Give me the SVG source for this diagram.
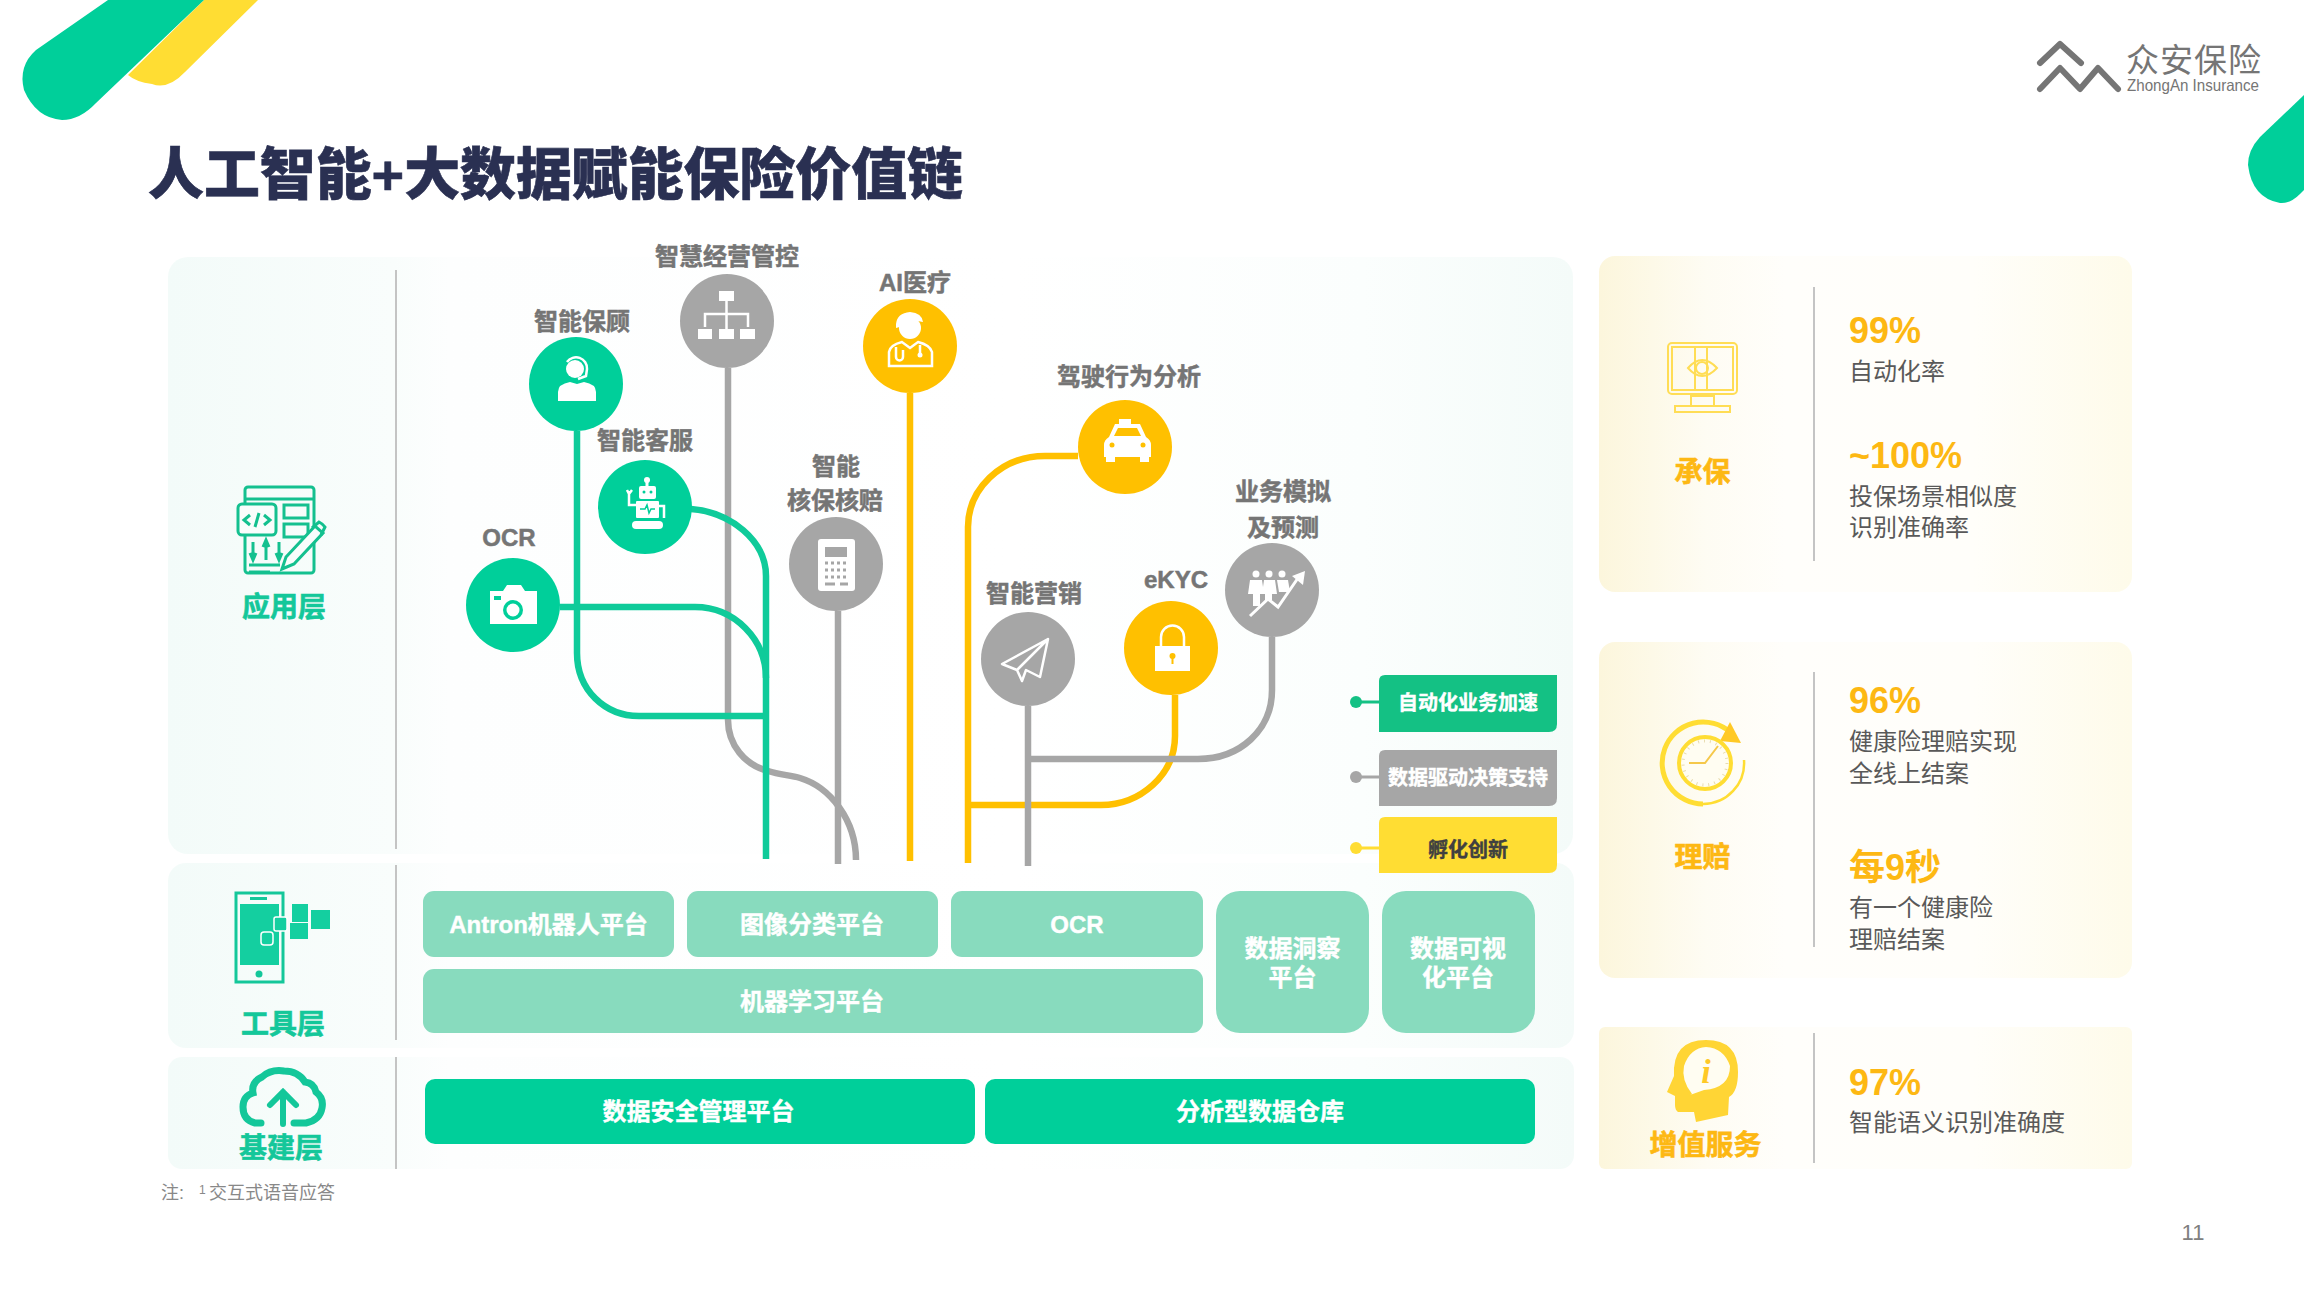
<svg xmlns="http://www.w3.org/2000/svg" width="2304" height="1296" viewBox="0 0 2304 1296">
<style>
text{font-family:"Liberation Sans","Noto Sans CJK SC",sans-serif}
.lb{font-size:24px;font-weight:700;fill:#757575;stroke:#757575;stroke-width:.5;text-anchor:middle}
.wt{font-size:24px;font-weight:700;fill:#fff;stroke:#fff;stroke-width:.4;text-anchor:middle}
.lg{font-size:20px;font-weight:700;fill:#fff;stroke:#fff;stroke-width:.4;text-anchor:middle}
.gh{font-size:28px;font-weight:700;fill:#14c79a;stroke:#14c79a;stroke-width:.6;text-anchor:middle}
.yh{font-size:28px;font-weight:700;fill:#fdb813;stroke:#fdb813;stroke-width:.6;text-anchor:middle}
.num{font-size:36px;font-weight:700;fill:#fdb813}
.bd{font-size:24px;fill:#595959}
.g{fill:#00cf9a}.k{fill:#a6a6a6}.o{fill:#ffc000}
.tool{fill:#88dbbe}.base{fill:#00cf9a}
.div{stroke:#c4c4c4;stroke-width:2;fill:none}
.cn{fill:none;stroke-width:6.500}
.sg{stroke:#0fcb9a}.sk{stroke:#a6a6a6}.so{stroke:#ffc000}
.w{fill:#fff}.wl{fill:none;stroke:#fff;stroke-width:2.500}
.gi{fill:none;stroke:#14c08f;stroke-width:3}
.yi{fill:none;stroke:#ffdd55;stroke-width:2}
</style>
<defs>
<linearGradient id="pg"><stop offset="0" stop-color="#f3fbf9"/><stop offset=".16" stop-color="#f9fdfc"/><stop offset=".2" stop-color="#fdfefe"/><stop offset=".6" stop-color="#fff"/><stop offset=".85" stop-color="#fbfefd"/><stop offset="1" stop-color="#f4fbf9"/></linearGradient>
<linearGradient id="py"><stop offset="0" stop-color="#fcf6dc"/><stop offset=".2" stop-color="#fefcf3"/><stop offset=".35" stop-color="#fffefb"/><stop offset=".7" stop-color="#fffefa"/><stop offset="1" stop-color="#fefbea"/></linearGradient>
</defs>
<rect width="2304" height="1296" fill="#fff"/>
<g id="decor">
<path d="M204,0H258L185,72Q168,90 152,84Q136,82 128,75L204,0Z" fill="#ffdd33"/>
<path d="M108,0H204L96,103Q80,120 62,120Q36,118 24,90Q18,66 36,50Z" fill="#00cf9a"/>
<path d="M2304,95V190L2300,194Q2290,204 2280,203Q2252,198 2248,165Q2248,150 2260,137Z" fill="#00cf9a"/>
</g>
<g id="logo">
<path d="M2040,63L2060,44L2081,63M2040,89L2060,68L2080,89L2098,68L2118,89" fill="none" stroke="#757575" stroke-width="6" stroke-linecap="round" stroke-linejoin="round"/>
<text x="2126" y="72" font-size="33" fill="#757575" letter-spacing="1">众安保险</text>
<text x="2127" y="91" font-size="16.500" fill="#757575" textLength="132" lengthAdjust="spacingAndGlyphs">ZhongAn Insurance</text>
</g>
<text id="title" x="148" y="194" font-size="56" font-weight="900" fill="#2a3052" stroke="#2a3052" stroke-width=".6" textLength="815" lengthAdjust="spacingAndGlyphs">人工智能+大数据赋能保险价值链</text>
<g id="panels">
<rect x="168" y="257" width="1405" height="597" rx="20" fill="url(#pg)"/>
<rect x="168" y="863" width="1406" height="185" rx="18" fill="url(#pg)"/>
<rect x="168" y="1057" width="1406" height="112" rx="14" fill="url(#pg)"/>
<rect x="1599" y="256" width="533" height="336" rx="16" fill="url(#py)"/>
<rect x="1599" y="642" width="533" height="336" rx="16" fill="url(#py)"/>
<rect x="1599" y="1027" width="533" height="142" rx="6" fill="url(#py)"/>
<path class="div" d="M396,270V849M396,865V1040M396,1057V1169M1814,287V561M1814,672V947M1814,1033V1163"/>
</g>
<g id="connectors">
<path class="cn so" d="M910,393V861"/>
<path class="cn so" d="M1078,456H1045C1000,456 968,490 968,527V863"/>
<path class="cn so" d="M1175,695V736C1175,775 1140,805 1101,805H968"/>
<path class="cn sk" d="M728,368V720C728,745 745,765 768,771C780,775 790,775 800,778C830,787 856,820 856,860"/>
<path class="cn sk" d="M838,611V864"/>
<path class="cn sk" d="M1272,637V690C1272,730 1240,759 1198,759H1028"/>
<path class="cn sk" d="M1028,706V866"/>
<path class="cn sg" d="M577,431V653C577,690 605,716 639,716H766"/>
<path class="cn sg" d="M691,509C730,512 766,540 766,576V859"/>
<path class="cn sg" d="M560,607H695C735,607 766,640 766,678"/>
</g>
<g id="node-ocr"><circle class="g" cx="513" cy="605" r="47"/><text class="lb" x="509" y="546">OCR</text>
<path class="w" d="M490,591H503L507,585H521L525,591H537V624H490Z"/><circle cx="513" cy="610" r="10" fill="#00cf9a"/><circle cx="513" cy="610" r="6.500" fill="#fff"/><rect x="494" y="596" width="7" height="4" fill="#00cf9a"/></g>
<g id="node-advisor"><circle class="g" cx="576" cy="384" r="47"/><text class="lb" x="582" y="330">智能保顾</text>
<circle class="w" cx="575" cy="369" r="9"/><path class="wl" d="M567,362A11,11 0 0 1 587,369L586,376L578,379"/><path class="w" d="M558,401V392Q558,384 570,382L577,384L584,382Q596,384 596,392V401Z"/></g>
<g id="node-robot"><circle class="g" cx="645" cy="507" r="47"/><text class="lb" x="645" y="449">智能客服</text>
<circle class="w" cx="647" cy="480" r="3"/><rect x="645.500" y="482" width="3" height="6" class="w"/><rect class="w" x="639" y="486" width="17" height="13" rx="2"/><circle cx="644" cy="492" r="1.500" fill="#00cf9a"/><circle cx="651" cy="492" r="1.500" fill="#00cf9a"/>
<rect class="w" x="636" y="501" width="23" height="17" rx="1"/><path d="M640,509H645L647,505L649,513L651,509H655" fill="none" stroke="#00cf9a" stroke-width="1.500"/>
<rect class="w" x="632" y="521" width="31" height="8" rx="4"/><path class="wl" d="M629,491V505H636M627,490L629,494L632,490M659,506H664V518" stroke-width="2"/></g>
<g id="node-org"><circle class="k" cx="727" cy="321" r="47"/><text class="lb" x="727" y="265">智慧经营管控</text>
<rect class="w" x="719" y="291" width="15" height="10"/><rect class="w" x="698" y="329" width="14" height="10"/><rect class="w" x="719" y="329" width="15" height="10"/><rect class="w" x="740" y="329" width="15" height="10"/><path class="wl" d="M726.500,301V329M705,327V314H748V327"/></g>
<g id="node-calc"><circle class="k" cx="836" cy="564" r="47"/><text class="lb" x="836" y="475">智能</text><text class="lb" x="835" y="509">核保核赔</text>
<rect class="w" x="818" y="539" width="37" height="52" rx="3"/><rect x="825" y="547" width="22" height="10" fill="#a6a6a6"/><path d="M825,563H848M825,570H848M825,577H848" stroke="#a6a6a6" stroke-width="3" stroke-dasharray="3 3"/><path d="M825,584H835M840,584H848" stroke="#a6a6a6" stroke-width="3"/></g>
<g id="node-medical"><circle class="o" cx="910" cy="346" r="47"/><text class="lb" x="915" y="291">AI医疗</text>
<circle class="w" cx="910" cy="328" r="11"/><path class="w" d="M896,324Q897,313 910,312Q922,313 923,322L912,320Q905,326 896,328Z"/><path class="wl" d="M889,366V352Q890,345 902,342L910,348L918,342Q930,345 932,352V366Z"/><path class="wl" d="M896,347V357A3,3 0 0 0 903,357V350M920,345V353" stroke-width="2"/><circle class="w" cx="920" cy="355" r="2.500"/></g>
<g id="node-taxi"><circle class="o" cx="1125" cy="447" r="47"/><text class="lb" x="1129" y="385">驾驶行为分析</text>
<path class="w" d="M1119,419H1131V424H1140L1146,437Q1151,440 1151,445V457H1104V445Q1104,440 1109,437L1115,424H1119Z"/><rect class="w" x="1106" y="455" width="9" height="7"/><rect class="w" x="1140" y="455" width="9" height="7"/><path d="M1114,436L1118,428H1137L1141,436Z" fill="#ffc000"/><circle cx="1112" cy="445" r="2.500" fill="#ffc000"/><circle cx="1143" cy="445" r="2.500" fill="#ffc000"/></g>
<g id="node-marketing"><circle class="k" cx="1028" cy="659" r="47"/><text class="lb" x="1034" y="602">智能营销</text>
<path class="wl" d="M1048,639L1002,664L1017,670L1048,639L1040,677L1026,670L1022,681L1017,670" stroke-linejoin="round"/></g>
<g id="node-ekyc"><circle class="o" cx="1171" cy="648" r="47"/><text class="lb" x="1176" y="588">eKYC</text>
<path class="wl" d="M1161,647V637A11,11 0 0 1 1184,637V647" stroke-width="4"/><rect class="w" x="1155" y="646" width="35" height="25"/><circle cx="1172.500" cy="656" r="3" fill="#ffc000"/><rect x="1171.500" y="656" width="2" height="8" fill="#ffc000"/></g>
<g id="node-sim"><circle class="k" cx="1272" cy="590" r="47"/><text class="lb" x="1283" y="500">业务模拟</text><text class="lb" x="1283" y="536">及预测</text>
<g class="w"><circle cx="1256" cy="574" r="3.500"/><circle cx="1269" cy="574" r="3.500"/><circle cx="1282" cy="574" r="3.500"/><path d="M1250,580H1262L1264,594H1260V606H1253V594H1248Z"/><path d="M1264,580H1275L1277,594H1272V600H1265V594H1262Z"/><path d="M1277,580H1288L1290,592H1279Z"/></g>
<path d="M1250,616L1268,599L1278,607L1298,578" fill="none" stroke="#fff" stroke-width="3"/><path class="w" d="M1292,576L1305,571L1303,585Z"/></g>
<g id="legend">
<path d="M1356,702H1380" stroke="#14c184" stroke-width="3"/><circle cx="1356" cy="702" r="6" fill="#14c184"/>
<path d="M1379,681Q1379,675 1385,675H1557V724Q1557,732 1549,732H1379Z" fill="#14c184"/><text class="lg" x="1468" y="710">自动化业务加速</text>
<path d="M1356,777H1380" stroke="#a6a6a6" stroke-width="3"/><circle cx="1356" cy="777" r="6" fill="#a6a6a6"/>
<path d="M1379,756Q1379,750 1385,750H1557V798Q1557,806 1549,806H1379Z" fill="#a6a6a6"/><text class="lg" x="1468" y="785">数据驱动决策支持</text>
<path d="M1356,848H1380" stroke="#ffdd33" stroke-width="3"/><circle cx="1356" cy="848" r="6" fill="#ffdd33"/>
<path d="M1379,823Q1379,817 1385,817H1557V865Q1557,873 1549,873H1379Z" fill="#ffdd33"/><text class="lg" x="1468" y="857" style="fill:#404040;stroke:#404040">孵化创新</text>
</g>
<g id="layer-app">
<rect class="gi" x="245" y="487" width="69" height="86" rx="3"/><path class="gi" d="M245,499H314"/><rect class="gi" x="238" y="504" width="38" height="31" rx="4" style="fill:#f9fdfc"/>
<path class="gi" d="M250,515L244,520L250,525M255,527L259,513M264,515L270,520L264,525" stroke-width="2"/>
<rect class="gi" x="284" y="505" width="24" height="13"/><rect class="gi" x="284" y="524" width="24" height="13"/>
<path class="gi" d="M253,542V560M266,540V560M279,542V560M250,553L253,560L256,553M263,547L266,540L269,547M276,553L279,560L282,553M249,565H280M249,572H270"/>
<path d="M282,569L286,557L315,526L323,533L294,564Z" fill="#f9fdfc" stroke="#14c08f" stroke-width="3"/><path class="gi" d="M312,528L319,522Q323,524 325,527L321,535"/>
<text class="gh" x="284" y="617">应用层</text></g>
<g id="layer-tool">
<rect x="236" y="893" width="47" height="89" fill="none" stroke="#14c79a" stroke-width="3"/><rect x="240" y="904" width="39" height="61" fill="#14cfa0"/><rect x="250" y="897" width="17" height="3" fill="#14c79a"/><circle cx="259" cy="974" r="3.500" fill="#14c79a"/>
<rect x="292" y="904" width="16" height="18" fill="#14cfa0"/><rect x="311" y="910" width="19" height="19" fill="#14cfa0"/><rect x="290" y="923" width="18" height="16" fill="#14cfa0"/>
<rect x="274" y="917" width="13" height="14" rx="2" fill="#14cfa0" stroke="#fff" stroke-width="1.500"/><rect x="261" y="932" width="12" height="13" rx="3" fill="#14cfa0" stroke="#fff" stroke-width="1.500"/>
<text class="gh" x="283" y="1034">工具层</text></g>
<g id="layer-base">
<path d="M261,1123H255Q243,1120 243,1107Q243,1096 253,1093Q251,1082 262,1077Q271,1069 284,1071Q298,1071 305,1082Q314,1083 316,1092Q324,1098 322,1108Q320,1120 306,1123H294" fill="none" stroke="#14c79a" stroke-width="7" stroke-linecap="round"/>
<path d="M283,1124V1092M270,1105L283,1092L296,1105" fill="none" stroke="#14c79a" stroke-width="6" stroke-linecap="round"/>
<text class="gh" x="281" y="1158">基建层</text></g>
<g id="tool-antron"><rect class="tool" x="423" y="891" width="251" height="66" rx="11"/><text class="wt" x="548.500" y="933">Antron机器人平台</text></g>
<g id="tool-image"><rect class="tool" x="687" y="891" width="251" height="66" rx="11"/><text class="wt" x="812" y="933">图像分类平台</text></g>
<g id="tool-ocr"><rect class="tool" x="951" y="891" width="252" height="66" rx="11"/><text class="wt" x="1077" y="933">OCR</text></g>
<g id="tool-ml"><rect class="tool" x="423" y="969" width="780" height="64" rx="11"/><text class="wt" x="812" y="1010">机器学习平台</text></g>
<g id="tool-insight"><rect class="tool" x="1216" y="891" width="153" height="142" rx="24"/><text class="wt" x="1292.500" y="957">数据洞察</text><text class="wt" x="1292.500" y="986">平台</text></g>
<g id="tool-vis"><rect class="tool" x="1382" y="891" width="153" height="142" rx="24"/><text class="wt" x="1458" y="957">数据可视</text><text class="wt" x="1458" y="986">化平台</text></g>
<g id="base-sec"><rect class="base" x="425" y="1079" width="550" height="65" rx="10"/><text class="wt" x="698.500" y="1120">数据安全管理平台</text></g>
<g id="base-dw"><rect class="base" x="985" y="1079" width="550" height="65" rx="10"/><text class="wt" x="1260" y="1120">分析型数据仓库</text></g>
<g id="card-underwriting">
<rect class="yi" x="1668" y="343" width="69" height="51" rx="4"/><rect class="yi" x="1672" y="347" width="61" height="43"/><path class="yi" d="M1695,347V390M1707,347V390M1691,405V396H1714V405M1675,412V406H1730V412Z"/>
<path class="yi" d="M1688,368Q1702,352 1717,368Q1702,384 1688,368Z"/><circle class="yi" cx="1702" cy="368" r="6"/>
<text class="yh" x="1702.500" y="482">承保</text>
<text class="num" x="1849" y="343">99%</text><text class="bd" x="1849" y="380">自动化率</text>
<text class="num" x="1849" y="468">~100%</text><text class="bd" x="1849" y="505">投保场景相似度</text><text class="bd" x="1849" y="536">识别准确率</text></g>
<g id="card-claims">
<path d="M1703,804A41,41 0 1 1 1730,732" fill="none" stroke="#ffdd33" stroke-width="5"/><path d="M1744,760A41,41 0 0 1 1703,804" fill="none" stroke="#ffdd33" stroke-width="2.500"/><path d="M1730,722L1741,743L1720,741Z" fill="#ffc926"/>
<circle cx="1705" cy="763" r="26" fill="#fffdf2" stroke="#ffdd33" stroke-width="4"/><circle cx="1705" cy="763" r="22" fill="none" stroke="#e8dcae" stroke-width="3" stroke-dasharray="1 5"/><path d="M1689,763H1705L1718,746" fill="none" stroke="#f5c84a" stroke-width="2"/>
<text class="yh" x="1702.500" y="867">理赔</text>
<text class="num" x="1849" y="713">96%</text><text class="bd" x="1849" y="750">健康险理赔实现</text><text class="bd" x="1849" y="782">全线上结案</text>
<text class="num" x="1849" y="880">每9秒</text><text class="bd" x="1849" y="916">有一个健康险</text><text class="bd" x="1849" y="948">理赔结案</text></g>
<g id="card-vas">
<path d="M1696,1122L1694,1112H1678Q1675,1110 1675,1105V1096L1667,1092L1674,1076Q1672,1040 1706,1040Q1738,1040 1738,1072Q1738,1092 1729,1097L1728,1115Z" fill="#ffd535"/><path d="M1692,1094Q1681,1080 1684,1066Q1690,1048 1706,1047Q1724,1048 1730,1066Q1730,1088 1704,1090L1690,1095Z" fill="#fffdf2"/>
<text x="1706" y="1083" font-size="34" font-weight="700" font-style="italic" fill="#ffc926" text-anchor="middle" style="font-family:'Liberation Serif',serif">i</text>
<text class="yh" x="1705.500" y="1155">增值服务</text>
<text class="num" x="1849" y="1095">97%</text><text class="bd" x="1849" y="1131">智能语义识别准确度</text></g>
<text id="note" font-size="18" fill="#888"><tspan x="161" y="1199">注:</tspan><tspan x="199" y="1194" font-size="12">1</tspan><tspan x="209" y="1199">交互式语音应答</tspan></text>
<text id="page" x="2193" y="1240" font-size="22" fill="#808080" text-anchor="middle">11</text>
</svg>
